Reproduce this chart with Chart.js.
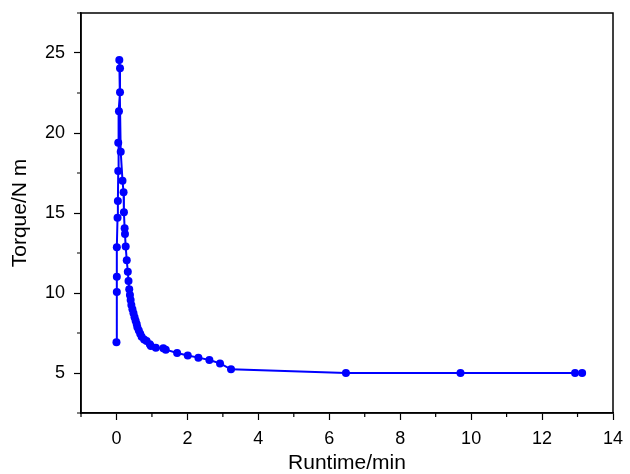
<!DOCTYPE html>
<html>
<head>
<meta charset="utf-8">
<script src="https://cdn.jsdelivr.net/npm/chart.js@4/dist/chart.umd.min.js"></script>
<style>
  html, body { margin: 0; padding: 0; background: #fff; }
  #wrap { width: 630px; height: 474px; position: relative; }
</style>
</head>
<body>
<div id="wrap"><canvas id="torqueChart"></canvas></div>
<script>
// Torque vs runtime
const runtimeMin = [
  0.00, 0.01, 0.01, 0.01, 0.03, 0.04, 0.05, 0.05, 0.07, 0.10, 0.10, 0.08,
  0.12, 0.17, 0.20, 0.21, 0.23, 0.24, 0.26, 0.29, 0.32, 0.34, 0.36, 0.38,
  0.40, 0.42, 0.45, 0.48, 0.51, 0.54, 0.57, 0.59, 0.63, 0.67, 0.71, 0.78,
  0.85, 0.94, 0.97, 1.11, 1.32, 1.39, 1.71, 2.01, 2.31, 2.62, 2.92, 3.23,
  6.47, 9.70, 12.93, 13.13
];
const torqueNm = [
  6.92, 10.06, 11.02, 12.86, 14.71, 15.75, 17.63, 19.39, 21.36, 22.54, 24.04, 24.56,
  18.83, 17.02, 16.29, 15.04, 14.04, 13.69, 12.90, 12.04, 11.33, 10.75, 10.23, 9.88,
  9.56, 9.25, 8.98, 8.73, 8.48, 8.27, 8.06, 7.86, 7.65, 7.46, 7.27, 7.10,
  7.00, 6.79, 6.69, 6.58, 6.54, 6.46, 6.25, 6.10, 5.96, 5.81, 5.60, 5.23,
  5.00, 5.00, 5.00, 5.00
];
const xTickLabels = [0, 2, 4, 6, 8, 10, 12, 14];
const yTickLabels = [5, 10, 15, 20, 25];

const points = runtimeMin.map((x, i) => ({ x, y: torqueNm[i] }));
const FONT = '"Liberation Sans", Arial, Helvetica, sans-serif';

// box round the plot area + short minor ticks
const frameAndMinorTicks = {
  id: 'frameAndMinorTicks',
  afterDraw(chart) {
    const { ctx, chartArea: a, scales } = chart;
    ctx.save();
    ctx.strokeStyle = '#000';
    ctx.lineWidth = 1.5;
    ctx.strokeRect(a.left, a.top, a.right - a.left, a.bottom - a.top);
    ctx.lineWidth = 1.2;
    ctx.beginPath();
    scales.x.ticks.forEach(t => {
      if (xTickLabels.includes(t.value)) return;
      const px = scales.x.getPixelForValue(t.value);
      ctx.moveTo(px, a.bottom);
      ctx.lineTo(px, a.bottom + 4);
    });
    scales.y.ticks.forEach(t => {
      if (yTickLabels.includes(t.value)) return;
      const py = scales.y.getPixelForValue(t.value);
      ctx.moveTo(a.left, py);
      ctx.lineTo(a.left - 4, py);
    });
    ctx.stroke();
    ctx.restore();
  }
};

new Chart(document.getElementById('torqueChart'), {
  type: 'scatter',
  data: {
    datasets: [{
      data: points,
      showLine: true,
      borderColor: '#0000ff',
      backgroundColor: '#0000ff',
      borderWidth: 2,
      pointRadius: 4,
      pointBorderWidth: 0,
      tension: 0
    }]
  },
  plugins: [frameAndMinorTicks],
  options: {
    responsive: true,
    maintainAspectRatio: false,
    animation: false,
    layout: { padding: { top: 13, right: 17, left: 0, bottom: 0 } },
    plugins: { legend: { display: false }, tooltip: { enabled: false } },
    scales: {
      x: {
        type: 'linear',
        min: -1,
        max: 14,
        afterFit: s => { s.height = 61; s.paddingLeft = 0; s.paddingRight = 0; },
        ticks: {
          stepSize: 1,
          autoSkip: false,
          maxRotation: 0,
          padding: 8,
          color: '#000',
          font: { family: FONT, size: 18 },
          callback: v => xTickLabels.includes(v) ? String(v) : ''
        },
        grid: {
          drawOnChartArea: false,
          tickLength: 7,
          tickWidth: 1.2,
          tickColor: c => xTickLabels.includes(c.tick.value) ? '#000' : 'rgba(0,0,0,0)'
        },
        border: { color: '#000', width: 1.5 },
        title: {
          display: true,
          text: 'Runtime/min',
          color: '#000',
          font: { family: FONT, size: 21, lineHeight: 1 },
          padding: { top: 0, bottom: 0 }
        }
      },
      y: {
        type: 'linear',
        min: 2.5,
        max: 27.5,
        afterFit: s => { s.width = 81; s.paddingTop = 0; s.paddingBottom = 0; },
        ticks: {
          stepSize: 2.5,
          autoSkip: false,
          padding: 9,
          color: '#000',
          font: { family: FONT, size: 18 },
          callback: v => yTickLabels.includes(v) ? String(v) : ''
        },
        grid: {
          drawOnChartArea: false,
          tickLength: 7,
          tickWidth: 1.2,
          tickColor: c => yTickLabels.includes(c.tick.value) ? '#000' : 'rgba(0,0,0,0)'
        },
        border: { color: '#000', width: 1.5 },
        title: {
          display: true,
          text: 'Torque/N m',
          color: '#000',
          font: { family: FONT, size: 21, lineHeight: 1 },
          padding: { top: 10, bottom: 0 }
        }
      }
    }
  }
});
</script>
</body>
</html>
